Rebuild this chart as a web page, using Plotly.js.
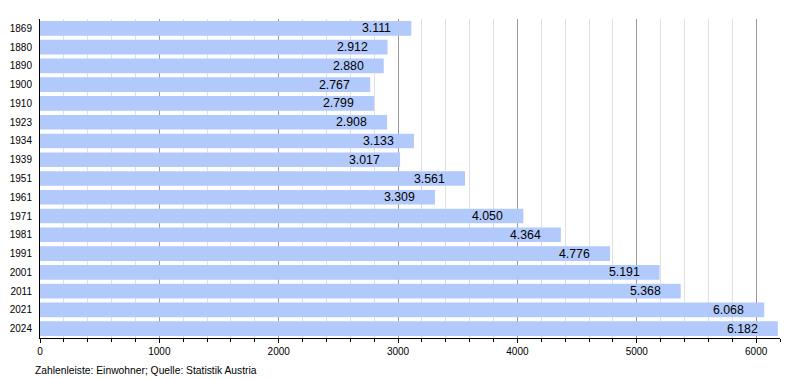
<!DOCTYPE html>
<html><head><meta charset="utf-8">
<script src="https://cdn.plot.ly/plotly-3.0.1.min.js"></script>
<style>html,body{margin:0;padding:0;background:#fff}#chart{width:800px;height:380px}</style>
</head><body><div id="chart"></div>
<script>
const years = ["1869","1880","1890","1900","1910","1923","1934","1939","1951","1961","1971","1981","1991","2001","2011","2021","2024"];
const population = [3111,2912,2880,2767,2799,2908,3133,3017,3561,3309,4050,4364,4776,5191,5368,6068,6182];
const labels = population.map(v => (v/1000).toFixed(3));
const footer = "Zahlenleiste: Einwohner; Quelle: Statistik Austria";

const valueNotes = years.map((y, i) => ({
  x: population[i], y: i, xref: 'x', yref: 'y', text: labels[i],
  xanchor: 'right', yanchor: 'middle', xshift: -18, yshift: 0,
  showarrow: false, font: {size: 12.3, color: '#000'}
}));

Plotly.newPlot('chart', [{
  type: 'bar', orientation: 'h',
  y: years, x: population,
  marker: {color: 'rgb(178,201,251)'},
  hoverinfo: 'none'
}], {
  width: 800, height: 380,
  margin: {l: 40, r: 20, t: 19, b: 42},
  paper_bgcolor: '#fff', plot_bgcolor: '#fff',
  font: {family: 'Liberation Sans, Arial, sans-serif', size: 10, color: '#000'},
  bargap: 0.22,
  showlegend: false,
  xaxis: {
    range: [0, 6200], dtick: 1000, tick0: 0,
    showgrid: true, gridcolor: '#9a9a9a', gridwidth: 1,
    zeroline: false,
    ticks: 'outside', ticklen: 4, tickcolor: '#000',
    showline: true, linecolor: '#000', linewidth: 1,
    minor: {dtick: 200, ticks: 'outside', ticklen: 3, tickcolor: '#000', showgrid: true, gridcolor: '#e0e0e0', gridwidth: 1},
    tickfont: {size: 10}
  },
  yaxis: {
    type: 'category', categoryorder: 'array', categoryarray: years,
    range: [years.length - 0.5, -0.5],
    showgrid: false, zeroline: false,
    showline: true, linecolor: '#000', linewidth: 1,
    ticks: '', ticklabelstandoff: 5,
    tickfont: {size: 10}
  },
  annotations: valueNotes.concat([{
    text: footer, xref: 'paper', yref: 'paper', x: 0, y: 0,
    xanchor: 'left', yanchor: 'top', xshift: -7, yshift: -25,
    showarrow: false, font: {size: 10.3, color: '#000'}
  }])
}, {displayModeBar: false, staticPlot: true});
</script></body></html>
